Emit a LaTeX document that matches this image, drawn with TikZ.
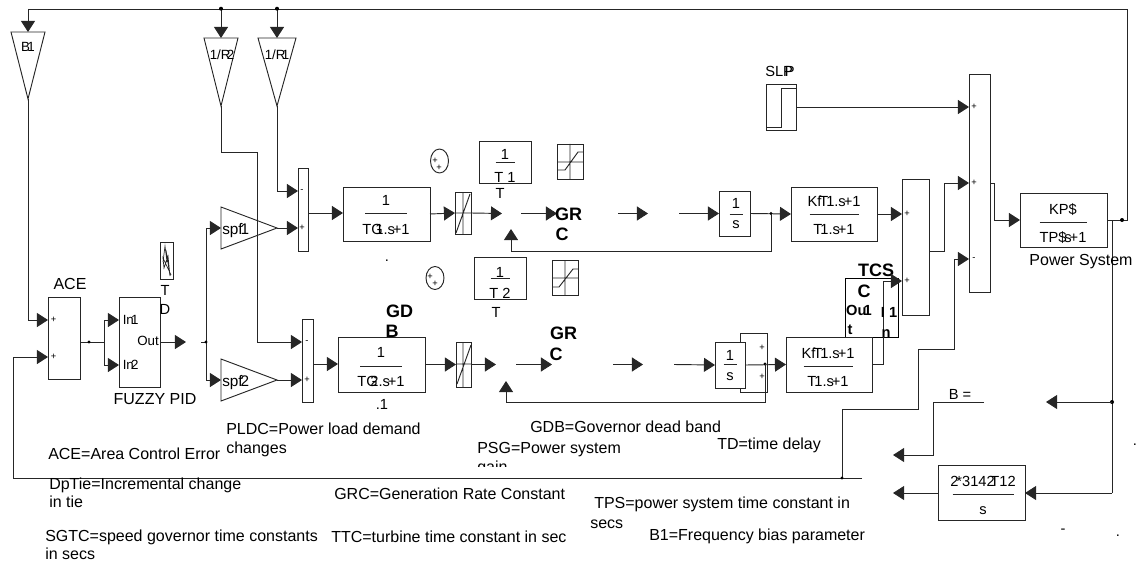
\documentclass[tikz,border=0pt]{standalone}
\usepackage{fontspec}
\setmainfont{Liberation Sans}
\usetikzlibrary{arrows.meta}
\newcommand\ov{\kern-.14em}
\newcommand\blk[5]{\node[blk,minimum width={(#4-#2)*0.75pt},minimum height={(#5-#3)*0.75pt}] (#1) at ({(#2+#4)/2},{(#3+#5)/2}) {};}
\newcommand\frc[8]{% name cx num den ynum yline yden half
  \node[ctr] (#1n) at (#2,#5) {#3};
  \node[ctr] (#1d) at (#2,#7) {#4};
  \draw[wire] ({#2-#8},#6) -- ({#2+#8},#6);}
\tikzset{
  wire/.style={line width=.7pt,draw=black!85},
  sig/.style={wire,-{Triangle[length=8.3pt,width=10.5pt]}},
  blk/.style={draw=black!85,line width=.7pt,fill=white,inner sep=0pt,outer sep=0pt},
  lbl/.style={anchor=base west,inner sep=0pt,yshift=-4pt,font=\fontsize{12}{14}\selectfont},
  ctr/.style={anchor=base,inner sep=0pt,yshift=-3.75pt,font=\fontsize{11}{13}\selectfont},
  ctrL/.style={anchor=base,inner sep=0pt,yshift=-4pt,font=\fontsize{12}{14}\selectfont},
  ctrS/.style={anchor=base,inner sep=0pt,yshift=-3.5pt,font=\fontsize{10}{12}\selectfont},
  inb/.style={anchor=base west,inner sep=0pt,yshift=-3.5pt,font=\fontsize{10}{12}\selectfont},
  inbL/.style={anchor=base west,inner sep=0pt,yshift=-3.75pt,font=\fontsize{11.5}{13}\selectfont},
  bld/.style={anchor=base,inner sep=0pt,yshift=-4pt,font=\fontsize{13.5}{15}\selectfont\bfseries},
  bls/.style={anchor=base,inner sep=0pt,yshift=-4pt,font=\fontsize{11}{12}\selectfont\bfseries},
  tiny/.style={anchor=center,inner sep=0pt,font=\fontsize{7}{8}\selectfont},
  dot/.style={circle,fill=black,inner sep=0pt,minimum size=3pt},
}
\begin{document}
\begin{tikzpicture}[x=0.75pt,y=-0.75pt]
\useasboundingbox (0,0) rectangle (1137,563);

% bold texts that lie behind blocks
\node[bld] (gdbA) at (399.5,312) {GD};
\node[bld] (gdbB) at (392,332) {B};
\node[bld] (tcsA) at (876,271) {TCS};

% blocks
\blk{ace}{48}{297}{80}{379}
\blk{fuzzy}{119}{297}{160}{387}
\blk{tdicon}{160}{242}{173}{279}
\blk{sumA}{298}{168}{308}{251}
\blk{sumB}{302}{319}{313}{402}
\blk{tgA}{343}{187}{430}{241}
\blk{tgB}{338}{337}{425}{392}
\blk{rlA}{455}{192}{471}{234}
\blk{rlB}{456}{342}{471}{387}
\blk{tA}{479}{141}{531}{183}
\blk{tB}{474}{257}{526}{299}
\blk{satA}{557}{144}{583}{179}
\blk{satB}{552}{260}{578}{295}
\blk{sumH}{740}{333}{767}{392}
\blk{intA}{719}{191}{750}{236}
\blk{intB}{715}{342}{745}{388}
\blk{slp}{766}{84}{796}{130}
\blk{kfA}{791}{187}{877}{241}
\node[draw=black,line width=.7pt,inner sep=0pt,outer sep=0pt,minimum width={53*0.75pt},minimum height={59*0.75pt}] (tcsbox) at (871.5,307.5) {};
\blk{kfB}{786}{337}{872}{392}
\blk{sumC}{902}{179}{929}{315}
\blk{sumD}{969}{74}{990}{292}
\blk{ps}{1020}{193}{1107}{247}
\blk{tie}{938}{465}{1025}{520}

% gains
\coordinate (b1top) at (28,32); \coordinate (b1tip) at (28,99);
\coordinate (r2top) at (221,38); \coordinate (r2tip) at (221,106);
\coordinate (r1top) at (277,38); \coordinate (r1tip) at (277,106);
\coordinate (spAin) at (221,228); \coordinate (spAout) at (277,228);
\coordinate (spBin) at (221,380); \coordinate (spBout) at (277,380);
\draw[wire] (11,32) -- (45,32) -- (b1tip) -- cycle;
\draw[wire] (204,38) -- (238,38) -- (r2tip) -- cycle;
\draw[wire] (258,38) -- (296,38) -- (r1tip) -- cycle;
\draw[wire] (221,207) -- (spAout) -- (221,249) -- cycle;
\draw[wire] (221,359) -- (spBout) -- (221,401) -- cycle;

% named free ends
\coordinate (topL) at (28,9);
\coordinate (topR) at (1127,9);
\coordinate (jR2) at (221,8.7);
\coordinate (jR1) at (277,8.7);
\coordinate (jOut) at (1122,220);
\coordinate (jPS) at (1112,220);
\coordinate (jB) at (1112,402);
\coordinate (jTie) at (1112,493);
\coordinate (arB) at (1046,402);
\coordinate (bEnd) at (984,402);
\coordinate (arBa) at (893,455);
\coordinate (arT) at (893,493);
\coordinate (fbEnd) at (862,478);
\coordinate (jFb) at (842,478);
\coordinate (jAce) at (89,342);
\coordinate (jFork) at (104,342);
\coordinate (outTip) at (186,342);
\coordinate (jSp) at (206,342);
\coordinate (jSpS) at (201,342);
\coordinate (jA) at (771,213.5);
\coordinate (jC) at (765,364);

% top feedback
\draw[wire] (ps.east) -- (1127,220) -- (topR) -- (topL);
\draw[sig] (topL) -- (b1top);
\draw[sig] (jR2) -- (r2top);
\draw[sig] (jR1) -- (r1top);
\draw[wire] (ps.east) -- (jPS) -- (jTie);
\node[dot] (dR2) at (jR2) {}; \node[dot] (dR1) at (jR1) {};
\node[dot] (dOut) at (jOut) {}; \node[dot] (dB) at (jB) {};

% first area
\draw[sig] (b1tip) -- (28,320) -- (ace.west |- 0,320);
\draw[sig] (r1tip) -- (277,191) -- (sumA.west |- 0,191);
\draw[sig] (spAout) -- (sumA.west |- 0,228);
\draw[sig] (r2tip) -- (221,152) -- (257,152) -- (257,342) -- (sumB.west |- 0,342);
\draw[sig] (spBout) -- (sumB.west |- 0,380);
\draw[sig] (sumA.east |- 0,213) -- (tgA.west |- 0,213);
\draw[sig] (sumB.east |- 0,364) -- (tgB.west |- 0,364);

% ACE and fuzzy
\draw[wire] (ace.east |- jAce) -- (jFork);
\node[dot,minimum size=2.5pt] (dAce) at (jAce) {};
\draw[sig] (jFork) -- (104,320) -- (fuzzy.west |- 0,320);
\draw[sig] (jFork) -- (104,365) -- (fuzzy.west |- 0,365);
\draw[sig] (fuzzy.east |- jAce) -- (outTip);
\draw[wire] (jSpS) -- (jSp);
\draw[sig] (jSp) -- (206,228) -- (spAin);
\draw[sig] (jSp) -- (206,380) -- (spBin);
\node[dot,minimum size=2.5pt] (dSp) at (jSp) {};

% forward upper
\coordinate (a1) at (502,213.5); \coordinate (a2) at (521,213.5); \coordinate (a3) at (557,213.5);
\coordinate (a4) at (618,213.5); \coordinate (a5) at (648,213.5); \coordinate (a6) at (679,213.5);
\draw[sig] (tgA.east) -- (rlA.west);
\draw[sig] (rlA.east) -- (a1);
\draw[sig] (a2) -- (a3);
\draw[sig] (a4) -- (a5);
\draw[sig] (a6) -- (intA.west);
\coordinate (fbA) at (511,229); \coordinate (fbB) at (506,381);
\draw[sig] (intA.east) -- (kfA.west);
\node[dot,minimum size=2.5pt] (dA) at (jA) {};
\draw[sig] (jA) -- (771,251) -- (511,251) -- (fbA);
\draw[sig] (kfA.east) -- (sumC.west |- kfA.east);

% forward lower
\coordinate (b1) at (496,364.5); \coordinate (b2) at (516,364.5); \coordinate (b3) at (552,364.5);
\coordinate (b4) at (613,364.5); \coordinate (b5) at (643,364.5); \coordinate (b6) at (674,364.5);
\draw[sig] (tgB.east) -- (rlB.west);
\draw[sig] (rlB.east) -- (b1);
\draw[sig] (b2) -- (b3);
\draw[sig] (b4) -- (b5);
\draw[sig] (b6) -- (intB.west);
\draw[sig] (intB.east) -- (kfB.west);
\node[dot,minimum size=2.5pt] (dC) at (jC) {};
\draw[wire] (jC) -- (765,402) -- (506,402);
\draw[sig] (506,402) -- (fbB);
\draw[sig] (kfB.east) -- (883,364.5) -- (883,281) -- (sumC.west |- 0,281);

% right side
\draw[sig] (sumC.east |- 0,251) -- (944,251) -- (944,183) -- (sumD.west |- 0,183);
\draw[sig] (slp.east) -- (sumD.west |- slp.east);
\draw[sig] (sumD.east |- 0,183) -- (994,183) -- (994,220) -- (ps.west);
\draw[sig] (jFb) -- (842,409) -- (918,409) -- (918,349) -- (954,349) -- (954,259) -- (sumD.west |- 0,259);
\draw[sig] (fbEnd) -- (13,478) -- (13,357) -- (ace.west |- 0,357);
\node[dot,minimum size=2.5pt] (dFb) at (jFb) {};
\draw[sig] (jB) -- (arB);
\draw[sig] (bEnd) -- (933,402) -- (933,455) -- (arBa);
\draw[sig] (jTie) -- (tie.east |- jTie);
\draw[sig] (tie.west |- jTie) -- (arT);

% icons
\draw[wire] (463,192) -- (463,234) (455,213) -- (471,213) (456,233) -- (470,194);
\draw[wire] (463,342) -- (463,387) (456,364) -- (471,364) (457,384) -- (471,345);
\draw[wire] (570,144) -- (570,179) (557,162) -- (583,162) (558,170) -- (565,170) -- (578,152) -- (583,152);
\draw[wire] (565,260) -- (565,295) (552,278) -- (578,278) (553,287) -- (559,287) -- (573,269) -- (578,269);
\draw[wire] (766,127) -- (781,127) -- (781,88) -- (796,88);
\draw[wire,line width=.5pt] (163,262) -- (165,246) -- (167,262) -- (166,250) -- (170,276) -- (168,256) -- (164,268) -- (163,258) -- (171,275);
\draw[wire] (439.5,161) ellipse (9 and 12);
\draw[wire] (435,278) ellipse (9 and 11.5);
\node[tiny] (pa1) at (435,161) {+}; \node[tiny] (pa2) at (439,168) {+};
\node[tiny] (pb1) at (430,277) {+}; \node[tiny] (pb2) at (435,284) {+};

% signs
\node[tiny] (sg1) at (53.5,320) {+}; \node[tiny] (sg2) at (53.5,357) {+};
\node[tiny] (sg3) at (302,191) {-}; \node[tiny] (sg4) at (302,228) {+};
\node[tiny] (sg5) at (307,342) {-}; \node[tiny] (sg6) at (307,380) {+};
\node[tiny] (sg7) at (974,107) {+}; \node[tiny] (sg8) at (974,183) {+}; \node[tiny] (sg9) at (974,259) {-};
\node[tiny] (sg10) at (907,214) {+}; \node[tiny] (sg11) at (907,281) {+};
\node[tiny] (sg12) at (762,348) {+}; \node[tiny] (sg13) at (762,377) {+};

% labels in blocks
\node[ctrS] (tB1) at (28,47) {B\kern-.2em 1};
\node[ctrS] (tR2) at (222,55) {1/R\kern-.28em 2};
\node[ctrS] (tR1) at (277,55) {1/R\kern-.28em 1};
\node[inbL] (tspA) at (222,229) {spf\ov 1};
\node[inbL] (tspB) at (222,381) {spf\ov 2};
\node[inb] (tIn1) at (122.5,320) {In\kern-.2em 1};
\node[inb] (tIn2) at (122.5,365) {In\kern-.2em 2};
\node[inb] (tOut) at (137,341) {Out};
\frc{fTGa}{386}{1}{TG\kern-.5em 1.s\ov +1}{200}{213}{229}{21}
\frc{fTGb}{381}{1}{TG\kern-.5em 2.s\ov +1}{352}{366}{381}{21}
\frc{fTa}{505}{1}{T 1}{154}{162}{177}{9.5}
\frc{fTb}{500}{1}{T 2}{272}{278}{293}{9.5}
\frc{fIa}{736}{1}{s}{203}{214}{223}{6.5}
\frc{fIb}{730}{1}{s}{355}{364}{375}{6.5}
\frc{fKa}{834}{Kf\ov T\ov 1.s\ov +1}{T\ov 1.s\ov +1}{201}{214}{229}{24.5}
\frc{fKb}{828}{Kf\ov T\ov 1.s\ov +1}{T\ov 1.s\ov +1}{353}{366}{381}{24.5}
\frc{fP}{1063}{KP\$}{TP\$\ov s\ov +1}{209}{222}{237}{23.5}
\frc{fTie}{983}{2\ov *3142\kern-.3em T12}{s}{481}{494}{509}{30.5}

% outside labels
\node[ctrL] (tACE) at (70,284) {ACE};
\node[ctrL] (tFZ) at (155,399) {FUZZY PID};
\node[ctr] (tTa) at (165,290) {T};
\node[ctr] (tDa) at (165,309) {D};
\node[ctr] (tT1) at (500,193) {T};
\node[ctr] (tT2) at (496,312) {T};
\node[ctr] (tSLP) at (780,72) {SLP\kern-.55em P};
\node[ctrL] (tPS) at (1081,260) {Power System};
\node[ctr] (tBe) at (960,394) {B =};
\node[ctr] (tdot1) at (387,256) {.};
\node[ctr] (tdot2) at (382,404) {.1};
\node[ctr] (tm1) at (1063,528) {-};
\node[ctr] (tm2) at (1118,531) {.};
\node[ctr] (tm3) at (1135,440) {.};

% bold
\node[bld] (tGRCa) at (568.5,215) {GR};
\node[bld] (tGRCb) at (562,235) {C};
\node[bld] (tGRCc) at (563.5,334) {GR};
\node[bld] (tGRCd) at (556,355) {C};
\node[bld] (tCc) at (864,292) {C};
\node[bls] (tOu) at (859,310) {Ou\kern-.2em 1};
\node[bls] (ttt) at (850,329) {t};
\node[bls] (tI1) at (889,312) {I 1};
\node[bls] (tnn) at (886,332) {n};

% legend
\node[lbl] (l1) at (48,454) {ACE=Area Control Error};
\node[lbl] (l2) at (226,429) {PLDC=Power load demand};
\node[lbl] (l2b) at (226,448) {changes};
\node[lbl] (l3) at (49,484) {DpTie=Incremental change};
\node[lbl] (l3b) at (49,502) {in tie};
\node[lbl] (l4) at (45,536) {SGTC=speed governor time constants};
\node[lbl] (l4b) at (45,554) {in secs};
\node[lbl] (l5) at (334,494) {GRC=Generation Rate Constant};
\node[lbl] (l6) at (331,537) {TTC=turbine time constant in sec};
\node[lbl] (l7) at (594,503) {TPS=power system time constant in};
\node[lbl] (l7b) at (590,523) {secs};
\node[lbl] (l8) at (649,535) {B1=Frequency bias parameter};
\node[lbl] (l9) at (530,427) {GDB=Governor dead band};
\node[lbl] (l10) at (477,448) {PSG=Power system};
\begin{scope}
\clip (470,458) rectangle (600,466);
\node[lbl] (l10b) at (477,467) {gain};
\end{scope}
\node[lbl] (l11) at (717,444) {TD=time delay};
\end{tikzpicture}
\end{document}
